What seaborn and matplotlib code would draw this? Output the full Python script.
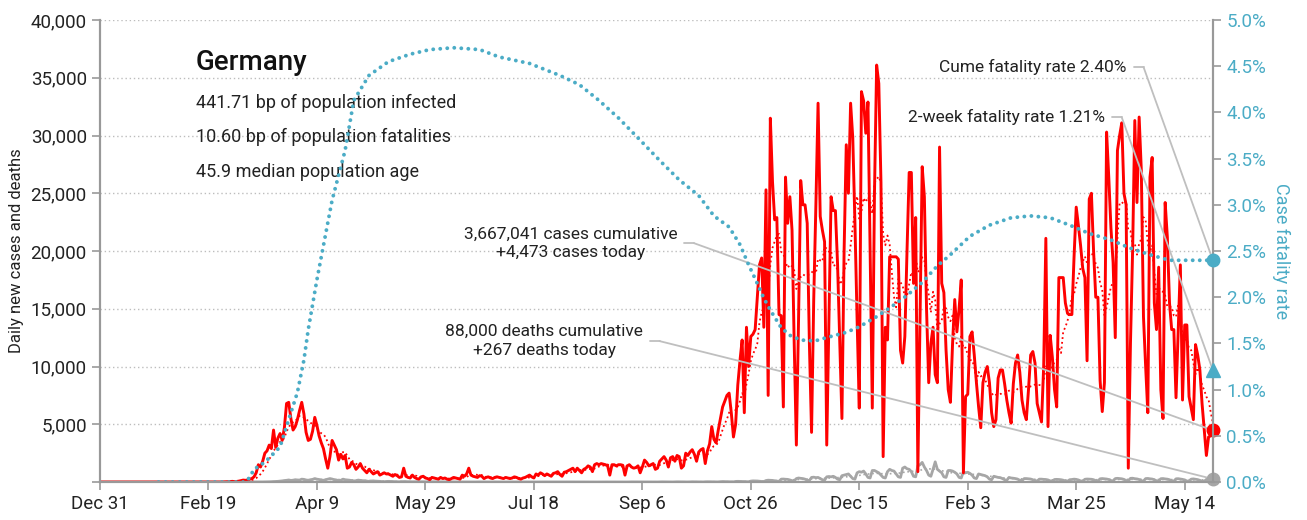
import pandas as pd
import seaborn as sns
import matplotlib.pyplot as plt
import matplotlib.dates as mdates

start = pd.Timestamp("2019-12-31")

# daily new cases, one row per week (first row starts Feb 25, 2020)
cases = [0] * 56 + [
    0, 10, 20, 30, 40, 60, 30,
    50, 80, 120, 170, 150, 170, 250,
    300, 450, 800, 1500, 1300, 1800, 2500,
    2700, 3200, 2900, 4500, 3000, 3800, 4200,
    3600, 4700, 6800, 6900, 5500, 4500, 4800,
    5400, 6200, 6900, 5900, 4300, 3600, 3700,
    4400, 5600, 4900, 4000, 3400, 2900, 2000,
    1200, 2200, 3600, 3200, 2800, 1900, 2400,
    2000, 2300, 1200, 1300, 1700, 1500, 1100,
    1300, 1600, 1200, 1000, 800, 1100, 900,
    700, 800, 900, 600, 700, 800, 700,
    700, 600, 500, 650, 550, 400, 450,
    1200, 500, 400, 350, 600, 400, 300,
    250, 450, 500, 350, 300, 200, 400,
    350, 300, 250, 400, 300, 350, 250,
    200, 300, 400, 350, 300, 250, 600,
    500, 700, 1200, 600, 500, 450, 400,
    550, 500, 300, 400, 450, 350, 300,
    400, 450, 400, 350, 300, 400, 350,
    300, 350, 450, 400, 300, 250, 350,
    400, 500, 600, 450, 350, 700, 600,
    800, 700, 550, 700, 600, 500, 750,
    800, 900, 650, 500, 850, 900, 1000,
    1100, 1200, 900, 1200, 1000, 800, 1100,
    1200, 1400, 1300, 900, 1500, 1600, 1500,
    1600, 1550, 1500, 1400, 600, 1500, 1500,
    1400, 1500, 1500, 1450, 600, 1400, 1500,
    1300, 1200, 1250, 1400, 800, 1300, 1900,
    1700, 1400, 1500, 1600, 1100, 1200, 1800,
    2000, 2200, 1900, 1300, 2100, 2200, 1800,
    2300, 2200, 1200, 1400, 2500, 2300, 2600,
    2800, 2400, 1800, 2600, 2800, 2900, 1600,
    2700, 3300, 4800, 3700, 3400, 4500, 5500,
    6500, 7000, 7500, 7700, 6000, 3900, 5000,
    8400, 10500, 12300, 6000, 13400, 10000, 12600,
    12800, 13200, 16000, 18800, 19400, 13400, 25300,
    7500, 31500, 26000, 22700, 22900, 14500, 14400,
    6500, 26400, 22400, 24700, 21800, 12000, 3200,
    14000, 26100, 24000, 24000, 22400, 12000, 4300,
    15800, 24000, 32800, 23000, 21800, 20800, 3200,
    14000, 24700, 23500, 23500, 18800, 12000, 5500,
    20000, 29200, 25000, 32800, 29800, 22400, 14000,
    6400, 33800, 33000, 30200, 32900, 20000, 6400,
    25000, 36100, 34500, 25900, 2200, 13400, 12300,
    19500, 19500, 19500, 19500, 19300, 11400, 10300,
    12600, 20000, 26800, 26800, 17200, 22900, 900,
    14300, 27300, 24700, 15000, 8600, 12000, 13400,
    9300, 8600, 29000, 17200, 16400, 11400, 8000,
    6900, 12000, 15800, 13000, 15000, 17500, 800,
    7400, 7600, 12600, 13000, 11000, 8600, 6500,
    4700, 8600, 9500, 10000, 8600, 6000, 4800,
    5400, 9000, 9700, 9700, 8500, 7100, 6000,
    5100, 8500, 10300, 11000, 9500, 7100, 6000,
    5400, 8000, 11000, 11300, 10300, 6800, 6000,
    5200, 10000, 21100, 4800, 12700, 10800, 8000,
    6500, 17700, 17700, 17700, 15500, 14600, 14500,
    14500, 19500, 23800, 22200, 20500, 18500, 17700,
    10500, 24500, 25000, 20000, 16000, 16000, 8800,
    6100, 8600, 30300, 26400, 22000, 19000, 12500,
    28700, 30000, 31100, 25000, 24000, 1200, 12000,
    20100, 31300, 24200, 31600, 27000, 14300, 10000,
    6000, 26400, 28100, 15500, 13200, 18600, 8000,
    5500, 24200, 21200, 15500, 13200, 13200, 7300,
    13000, 18800, 7100, 13600, 13600, 7400, 6400,
    5400, 11900, 11000, 9700, 6800, 4500, 2300,
    3900, 4000, 4473,
]

# daily new deaths (first row starts Mar 10, 2020)
deaths = [0] * 70 + [
    1, 2, 2, 5, 3, 8, 10,
    15, 20, 30, 40, 50, 60, 80,
    100, 130, 150, 180, 140, 160, 200,
    180, 170, 250, 230, 180, 150, 200,
    230, 300, 250, 220, 180, 150, 200,
    250, 300, 260, 200, 180, 120, 150,
    250, 200, 180, 160, 130, 100, 110,
    170, 140, 120, 110, 80, 60, 90,
    100, 80, 70, 60, 40, 30, 50,
    60, 50, 40, 30, 25, 20, 35,
    40, 35, 30, 25, 20, 15, 30,
    30, 25, 20, 18, 15, 10, 20,
    20, 18, 15, 12, 10, 8, 15,
    15, 12, 10, 8, 6, 5, 12,
    12, 10, 8, 6, 5, 4, 10,
    10, 8, 6, 5, 4, 3, 8,
    8, 6, 5, 5, 4, 2, 6,
    8, 7, 6, 5, 3, 2, 6,
    7, 6, 5, 4, 3, 2, 5,
    6, 5, 6, 4, 3, 2, 5,
    6, 5, 7, 5, 3, 2, 6,
    7, 6, 5, 4, 3, 2, 5,
    6, 5, 5, 4, 3, 1, 4,
    5, 6, 5, 4, 3, 2, 6,
    8, 6, 7, 5, 3, 2, 8,
    10, 9, 8, 6, 4, 3, 10,
    12, 10, 9, 8, 5, 3, 12,
    14, 12, 10, 9, 6, 4, 14,
    16, 14, 12, 10, 7, 5, 15,
    18, 16, 14, 12, 8, 6, 20,
    25, 22, 20, 15, 10, 8, 30,
    40, 35, 30, 25, 20, 15, 50,
    60, 55, 50, 40, 30, 25, 80,
    100, 95, 90, 70, 50, 40, 130,
    160, 150, 140, 110, 80, 60, 250,
    260, 240, 230, 180, 120, 100, 300,
    350, 320, 300, 250, 150, 140, 400,
    420, 380, 400, 300, 200, 160, 450,
    480, 450, 500, 400, 250, 200, 550,
    600, 650, 700, 500, 300, 250, 800,
    900, 850, 950, 700, 400, 350, 1000,
    1000, 900, 800, 600, 400, 350, 900,
    1100, 1000, 950, 700, 450, 400, 1200,
    1300, 1150, 1100, 900, 500, 450, 1400,
    1500, 1700, 1300, 1000, 600, 500, 1100,
    1750, 1100, 950, 800, 450, 400, 1000,
    1000, 950, 850, 700, 400, 350, 900,
    800, 850, 750, 600, 350, 300, 700,
    650, 600, 550, 450, 250, 200, 500,
    450, 400, 380, 300, 200, 150, 400,
    350, 330, 300, 250, 150, 120, 300,
    300, 280, 260, 200, 120, 100, 250,
    250, 230, 220, 180, 100, 90, 220,
    230, 220, 200, 160, 90, 80, 200,
    220, 250, 230, 180, 100, 80, 240,
    260, 250, 240, 200, 120, 90, 280,
    300, 280, 260, 220, 130, 100, 300,
    320, 300, 280, 230, 130, 100, 320,
    330, 290, 270, 220, 120, 90, 300,
    310, 280, 260, 200, 110, 80, 290,
    300, 270, 250, 200, 100, 80, 280,
    290, 260, 230, 180, 90, 70, 250,
    270, 240, 210, 150, 80, 60, 230,
    250, 220, 267,
]

# cumulative case fatality rate (%), read at these days after Dec 31, 2019
cfr_day = [27, 40, 55, 67, 69, 71, 74, 78, 83, 85, 88, 91, 94, 96, 100, 107, 113,
           117, 124, 133, 143, 152, 163, 175, 184, 198, 212, 221, 230, 239, 249,
           258, 267, 276, 283, 290, 295, 299, 302, 306, 309, 314, 319, 325, 330,
           336, 344, 350, 358, 365, 372, 379, 386, 392, 401, 410, 420, 429, 438,
           447, 456, 466, 475, 484, 493, 503, 513]
cfr_pct = [0.0, 0.0, 0.0, 0.0, 0.05, 0.14, 0.18, 0.26, 0.38, 0.53, 0.75, 0.97, 1.32,
           1.65, 2.19, 3.05, 3.59, 4.13, 4.4, 4.55, 4.63, 4.68, 4.7, 4.68, 4.6,
           4.53, 4.4, 4.3, 4.13, 3.94, 3.7, 3.48, 3.27, 3.1, 2.88, 2.76, 2.57,
           2.35, 2.2, 1.99, 1.86, 1.67, 1.57, 1.53, 1.53, 1.57, 1.62, 1.68, 1.79,
           1.9, 2.02, 2.16, 2.34, 2.46, 2.66, 2.78, 2.86, 2.88, 2.86, 2.78, 2.69,
           2.62, 2.53, 2.46, 2.4, 2.4, 2.4]

two_week_cfr = 1.21
tick_labels = ["Dec 31", "Feb 19", "Apr 9", "May 29", "Jul 18", "Sep 6",
               "Oct 26", "Dec 15", "Feb 3", "Mar 25", "May 14"]

RED = "#ff0000"
GREY = "#a6a6a6"
BLUE = "#4bacc6"
LEADER = "#bfbfbf"

df = pd.DataFrame({"date": start + pd.to_timedelta(range(len(cases)), unit="D"),
                   "cases": cases, "deaths": deaths})
df["cases_avg"] = df["cases"].rolling(7).mean()
df["deaths_avg"] = df["deaths"].rolling(7).mean()
cfr = pd.DataFrame({"date": start + pd.to_timedelta(cfr_day, unit="D"), "cfr": cfr_pct})
last = df["date"].iloc[-1]
last_num = mdates.date2num(last)

sns.set_style("white")
plt.rcParams["font.family"] = ["Roboto", "DejaVu Sans"]

fig, ax = plt.subplots(figsize=(13.07, 5.2), dpi=100)
fig.subplots_adjust(left=0.0765, right=0.928, top=0.9615, bottom=0.073)
ax2 = ax.twinx()

sns.lineplot(data=df, x="date", y="deaths", ax=ax, color=GREY, lw=2)
sns.lineplot(data=df, x="date", y="deaths_avg", ax=ax, color=GREY, lw=1.2, linestyle=":")
sns.lineplot(data=df, x="date", y="cases", ax=ax, color=RED, lw=2.1)
sns.lineplot(data=df, x="date", y="cases_avg", ax=ax, color=RED, lw=1.3, linestyle=":")
sns.lineplot(data=cfr, x="date", y="cfr", ax=ax2, color=BLUE, lw=2.8,
             linestyle=(0, (0.01, 1.8)), dash_capstyle="round")

ax.plot([last_num], [cases[-1]], "o", color=RED, ms=9, clip_on=False, zorder=5)
ax.plot([last_num], [deaths[-1]], "o", color=GREY, ms=9, clip_on=False, zorder=5)
ax2.plot([last_num], [cfr_pct[-1]], "o", color=BLUE, ms=9, clip_on=False, zorder=5)
ax2.plot([last_num], [two_week_cfr], "^", color=BLUE, ms=10, clip_on=False, zorder=5)

ax.set_xlim(mdates.date2num(start), last_num)
ax.set_ylim(0, 40000)
ax2.set_ylim(0, 5)

ticks = [mdates.date2num(start + pd.Timedelta(days=50 * i)) for i in range(len(tick_labels))]
ax.set_xticks(ticks)
ax.set_xticklabels(tick_labels)
ax.set_yticks(range(0, 40001, 5000))
ax.set_yticklabels(["{:,}".format(v) if v else "" for v in range(0, 40001, 5000)])
ax2.set_yticks([i * 0.5 for i in range(11)])
ax2.set_yticklabels(["{:.1f}%".format(i * 0.5) for i in range(11)])

ax.yaxis.grid(True, color="#bdbdbd", linestyle=(0, (1, 2)), lw=1)
ax.set_axisbelow(True)
for a in (ax, ax2):
    a.spines["top"].set_visible(False)
    for s in ("left", "right", "bottom"):
        a.spines[s].set_color("#999999")
        a.spines[s].set_linewidth(1.5)
ax.tick_params(axis="both", colors="#999999", length=6, width=1.2, labelsize=13.5,
               labelcolor="#222222", direction="out", left=True, bottom=True)
ax2.tick_params(axis="y", colors="#999999", length=6, width=1.2, labelsize=13.5,
                labelcolor=BLUE, direction="out", right=True)

ax.set_xlabel("")
ax.set_ylabel("Daily new cases and deaths", fontsize=12, color="#222222", labelpad=5)
ax2.set_ylabel("Case fatality rate", fontsize=13, color=BLUE, rotation=270, labelpad=17)

ax.text(0.086, 0.907, "Germany", transform=ax.transAxes, fontsize=20, va="center",
        color="#111111", fontweight="medium")
info = ["441.71 bp of population infected", "10.60 bp of population fatalities",
        "45.9 median population age"]
for y, line in zip([0.820, 0.747, 0.671], info):
    ax.text(0.086, y, line, transform=ax.transAxes, fontsize=13, va="center", color="#222222")

notes = [
    ("Cume fatality rate 2.40%", 0.9227, 0.898, "right", ax2, cfr_pct[-1]),
    ("2-week fatality rate 1.21%", 0.903, 0.790, "right", ax2, two_week_cfr),
    ("3,667,041 cases cumulative\n+4,473 cases today", 0.4228, 0.517, "center", ax, cases[-1]),
    ("88,000 deaths cumulative\n+267 deaths today", 0.399, 0.305, "center", ax, deaths[-1]),
]
fig.canvas.draw()
for text, x, y, ha, tgt, val in notes:
    t = ax.text(x, y, text, transform=ax.transAxes, fontsize=12.5, ha=ha, va="center",
                multialignment="center", linespacing=1.3, color="#222222")
    bb = t.get_window_extent(renderer=fig.canvas.get_renderer()).transformed(ax.transAxes.inverted())
    x0 = bb.x1 + 0.006
    x1 = x0 + 0.009
    ax.plot([x0, x1], [y, y], color=LEADER, lw=1.3, transform=ax.transAxes, clip_on=False)
    ax.annotate("", xy=(last_num, val), xycoords=tgt.transData, xytext=(x1, y),
                textcoords="axes fraction",
                arrowprops=dict(arrowstyle="-", color=LEADER, lw=1.3, shrinkA=0, shrinkB=0))

fig.savefig("out.png", dpi=100)
